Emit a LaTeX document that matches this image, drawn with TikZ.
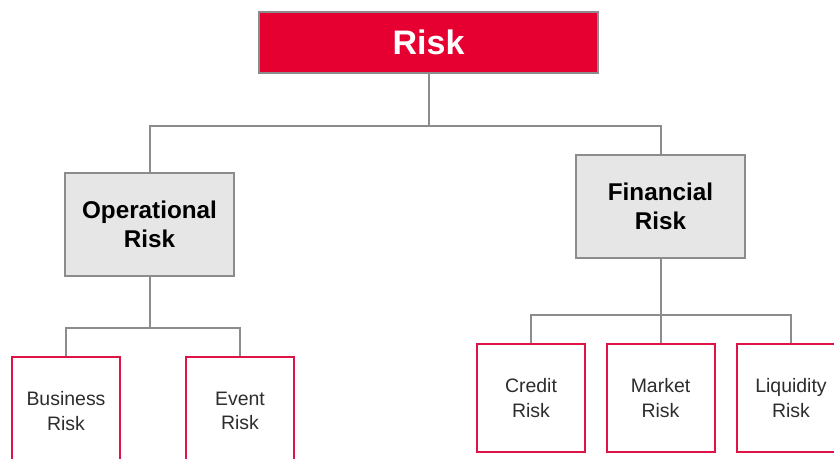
\documentclass[tikz,border=0pt]{standalone}
\usepackage{fontspec}
\setmainfont{Liberation Sans}
\usetikzlibrary{positioning}
\tikzset{help lines/.style=very thin}

\begin{document}
\begin{tikzpicture}[x=0.75pt, y=-0.75pt,
    %Style
    top box/.style={draw=linecolor, line width=2pt, fill=riskred, text=white,
      font=\fontsize{25.5}{30}\selectfont\bfseries,
      minimum width=254.25pt, minimum height=45.75pt},
    branch box/.style={draw=linecolor, line width=2pt, fill=boxgray, align=center,
      font=\fontsize{18.2}{21.75}\selectfont\bfseries,
      minimum width=126.75pt, minimum height=77.25pt},
    leaf box/.style={draw=leafred, line width=1.5pt, fill=white, text=leaftext, align=center,
      font=\fontsize{14.6}{18.4}\selectfont,
      minimum width=81pt, minimum height=81pt},
    connector/.style={draw=linecolor, line width=1.5pt}]
    %Colors
    \definecolor{riskred}{RGB}{230,0,50}
    \definecolor{leafred}{RGB}{222,20,70}
    \definecolor{linecolor}{RGB}{140,140,140}
    \definecolor{boxgray}{RGB}{230,230,230}
    \definecolor{leaftext}{RGB}{45,45,45}
    %\draw[help lines] (0,0) grid (834,459);
    \clip (0,0) rectangle (834,459);

    %The boxes
    \node[top box] (risk) at (428.5,42.5) {Risk};

    \node[branch box] (oprisk) at (149.5,224.5) {Operational\\Risk};
    \node[branch box] (finrisk) at (660.5,206.5) {Financial\\Risk};

    \node[leaf box] (business) at (66,411) {Business\\Risk};
    \node[leaf box] (event) at (240,411) {Event\\Risk};

    \node[leaf box] (credit) at (531,398) {Credit\\Risk};
    \node[leaf box] (market) at (660.5,398) {Market\\Risk};
    \node[leaf box] (liquidity) at (791,398) {Liquidity\\Risk};

    %The connectors
    \draw[connector] (risk.south) -- ++(0,52) coordinate (risk split);
    \draw[connector] (oprisk.north) |- (risk split) -| (finrisk.north);

    \draw[connector] (oprisk.south) -- ++(0,51) coordinate (op split);
    \draw[connector] (business.north) |- (op split) -| (event.north);

    \draw[connector] (finrisk.south) -- ++(0,56) coordinate (fin split);
    \draw[connector] (credit.north) |- (fin split) -| (liquidity.north);
    \draw[connector] (fin split) -- (market.north);
\end{tikzpicture}
\end{document}
